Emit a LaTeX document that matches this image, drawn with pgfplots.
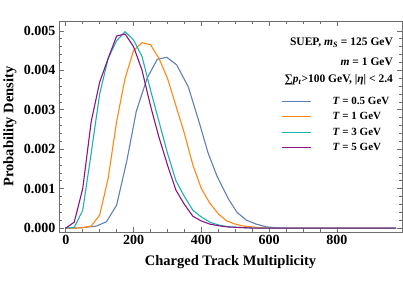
\documentclass[border=0pt]{standalone}
\usepackage{fontspec}
\setmainfont{Liberation Serif}
\usepackage{pgfplots}
\pgfplotsset{compat=1.18}
\definecolor{cblue}{RGB}{94,129,181}
\definecolor{corange}{RGB}{255,135,20}
\definecolor{ccyan}{RGB}{30,178,172}
\definecolor{cpurple}{RGB}{136,20,136}
\definecolor{framegray}{RGB}{110,110,110}
\begin{document}
\begin{tikzpicture}
\useasboundingbox (-59pt,-61pt) rectangle (344pt,232pt);
\begin{axis}[
  at={(0pt,0pt)}, anchor=south west,
  scale only axis, width=343pt, height=211pt,
  xmin=-20, xmax=992, ymin=-0.0001, ymax=0.00525,
  xtick={0,200,400,600,800}, minor x tick num=3,
  ytick={0,0.001,0.002,0.003,0.004,0.005},
  yticklabels={0.000,0.001,0.002,0.003,0.004,0.005},
  minor y tick num=4,
  scaled y ticks=false,
  tick align=inside,
  major tick length=5pt, minor tick length=2.8pt,
  axis line style={framegray, line width=0.8pt},
  every tick/.style={framegray, line width=0.6pt},
  /pgf/number format/assume math mode=true,
  tick label style={font=\fontsize{14}{16}\selectfont\bfseries},
  xlabel={Charged Track Multiplicity},
  ylabel={Probability Density},
  label style={font=\fontsize{14.5}{17}\selectfont\bfseries},
  xlabel style={at={(axis description cs:0.5,-0.142)}, anchor=center},
  ylabel style={at={(axis description cs:-0.143,0.5)}, anchor=center},
  legend cell align=left,
  legend style={at={(rel axis cs:0.638,0.66)}, anchor=north west,
    draw=none, fill=none, row sep=2.5pt, column sep=20pt,
    font=\fontsize{11}{13}\selectfont\bfseries,
    nodes={inner sep=1.5pt, text height=8pt, text depth=2pt}},
  legend image code/.code={\draw[#1] (0pt,0pt) -- (29pt,0pt);},
  every axis plot/.append style={line width=1.1pt},
  clip=true,
]
\addplot[cblue] coordinates {
(0,0) (30,0) (60,0.00002) (90,0.00005) (120,0.00016) (150,0.00058) (180,0.0017)
(208,0.00296) (240,0.0038) (270,0.00428) (298,0.00433) (327,0.00414) (361,0.00359)
(393,0.0027) (420,0.0019) (447,0.0013) (479,0.00075) (505,0.0004) (533,0.0002)
(562,0.0001) (592,0.00003) (620,0.00001) (650,0) (700,0) (800,0) (900,0) (975,0)};
\addlegendentry{\textit{T} = 0.5 GeV}
\addplot[corange] coordinates {
(0,0) (25,0) (50,0.00001) (75,0.00005) (100,0.00033) (125,0.00126) (150,0.0027)
(175,0.0038) (200,0.0045) (225,0.0047) (250,0.00465) (275,0.0043) (300,0.0038)
(325,0.0031) (350,0.0024) (375,0.0016) (400,0.0010) (425,0.00063) (450,0.00036)
(475,0.00018) (500,0.0001) (525,0.00005) (550,0.00003) (575,0.00001) (600,0)
(700,0) (800,0) (900,0) (975,0)};
\addlegendentry{\textit{T} = 1 GeV}
\addplot[ccyan] coordinates {
(0,0) (25,0.00002) (50,0.00045) (75,0.0019) (100,0.0034) (125,0.0043) (150,0.00475)
(175,0.00498) (200,0.00477) (225,0.00435) (250,0.0035) (275,0.0027) (300,0.0019)
(325,0.0012) (350,0.0008) (375,0.00045) (400,0.00028) (425,0.00015) (450,0.00008)
(475,0.00004) (500,0.00002) (525,0.00001) (550,0) (700,0) (800,0) (900,0) (975,0)};
\addlegendentry{\textit{T} = 3 GeV}
\addplot[cpurple] coordinates {
(0,0) (25,0.00015) (50,0.0010) (75,0.0027) (100,0.0037) (125,0.0043) (150,0.00487)
(175,0.00492) (200,0.0046) (225,0.0040) (250,0.0031) (275,0.0023) (300,0.0016)
(325,0.00096) (350,0.0006) (375,0.0003) (400,0.00018) (425,0.0001) (450,0.00006)
(475,0.00003) (500,0.00002) (525,0.00001) (550,0) (700,0) (800,0) (900,0) (975,0)};
\addlegendentry{\textit{T} = 5 GeV}
\node[anchor=east, font=\fontsize{11.5}{13}\selectfont\bfseries, inner sep=0pt]
  at (rel axis cs:0.974,0.896) {SUEP, \textit{m}\textsubscript{\textit{S}} = 125 GeV};
\node[anchor=east, font=\fontsize{11.5}{13}\selectfont\bfseries, inner sep=0pt]
  at (rel axis cs:0.974,0.806) {\textit{m} = 1 GeV};
\node[anchor=east, font=\fontsize{11.5}{13}\selectfont\bfseries, inner sep=0pt]
  at (rel axis cs:0.974,0.720) {∑\textit{p}\textsubscript{\textit{t}}>100 GeV, |\textit{η}| < 2.4};
\end{axis}
\end{tikzpicture}
\end{document}
